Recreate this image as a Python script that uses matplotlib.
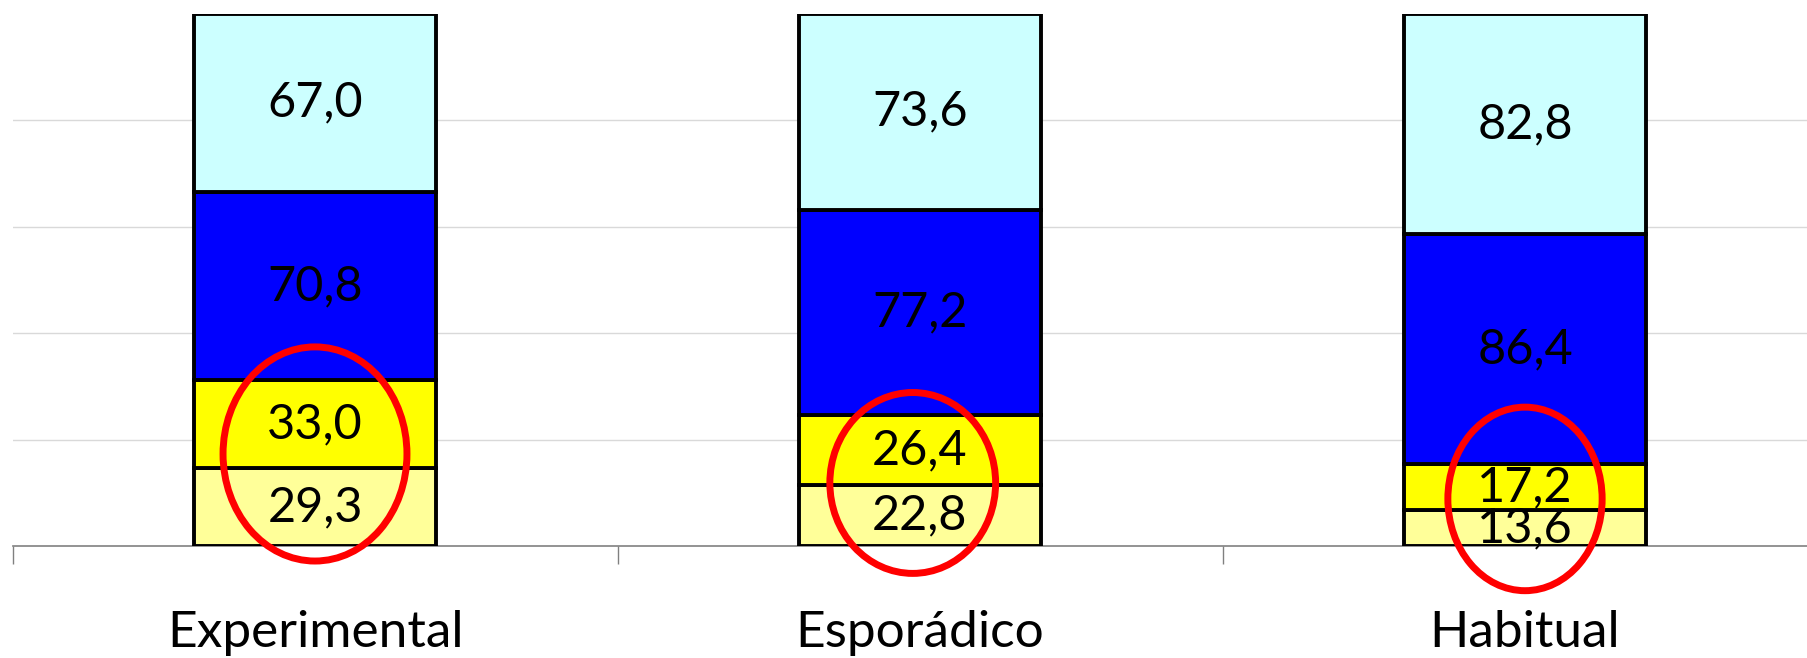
import matplotlib.pyplot as plt
from matplotlib.patches import Ellipse

# Data
categories = ['Experimental', 'Esporádico', 'Habitual']
seg1 = [29.3, 22.8, 13.6]   # light yellow
seg2 = [33.0, 26.4, 17.2]   # yellow
seg3 = [70.8, 77.2, 86.4]   # blue
seg4 = [67.0, 73.6, 82.8]   # light cyan
series = [seg1, seg2, seg3, seg4]
colors = ['#FFFF99', '#FFFF00', '#0000FF', '#CCFFFF']

# red circles drawn over the two lower segments
ell_x = [0.0, 0.988, 2.0]
ell_y = [34.6, 23.7, 17.7]
ell_w = [0.304, 0.274, 0.255]
ell_h = [80.5, 68.0, 69.0]

plt.rcParams['font.family'] = ['Lato', 'DejaVu Sans']

fig = plt.figure(figsize=(18.07, 6.58), dpi=100)
ax = fig.add_axes([12.5 / 1807, 112 / 658, 1815 / 1807, 532 / 658])

x = range(len(categories))
bottom = [0, 0, 0]
for vals, col in zip(series, colors):
    ax.bar(x, vals, width=0.4, bottom=bottom, color=col, edgecolor='black',
           linewidth=2.8, zorder=3)
    for i, v in enumerate(vals):
        ax.text(i, bottom[i] + v / 2, f'{v:.1f}'.replace('.', ','),
                ha='center', va='center', fontsize=35, zorder=5)
    bottom = [b + v for b, v in zip(bottom, vals)]

for cx, cy, w, h in zip(ell_x, ell_y, ell_w, ell_h):
    e = Ellipse((cx, cy), w, h, fill=False, edgecolor='#FF0000',
                linewidth=5, zorder=6, clip_on=False)
    ax.add_patch(e)

ax.set_xlim(-0.5, 2.5)
ax.set_ylim(0, 200)
ax.set_yticks([40, 80, 120, 160])
ax.yaxis.grid(True, color='#D9D9D9', linewidth=1, zorder=0)
ax.tick_params(axis='y', left=False, labelleft=False)

ax.set_xticks(list(x))
ax.set_xticklabels(categories, fontsize=37)
ax.set_xticks([-0.5, 0.5, 1.5, 2.5], minor=True)
ax.tick_params(axis='x', which='major', length=0, pad=46)
ax.tick_params(axis='x', which='minor', length=13, width=1, color='#808080')

for s in ['left', 'right', 'top']:
    ax.spines[s].set_visible(False)
ax.spines['bottom'].set_color('#808080')
ax.spines['bottom'].set_linewidth(1.2)

fig.savefig('out.png', dpi=100)
